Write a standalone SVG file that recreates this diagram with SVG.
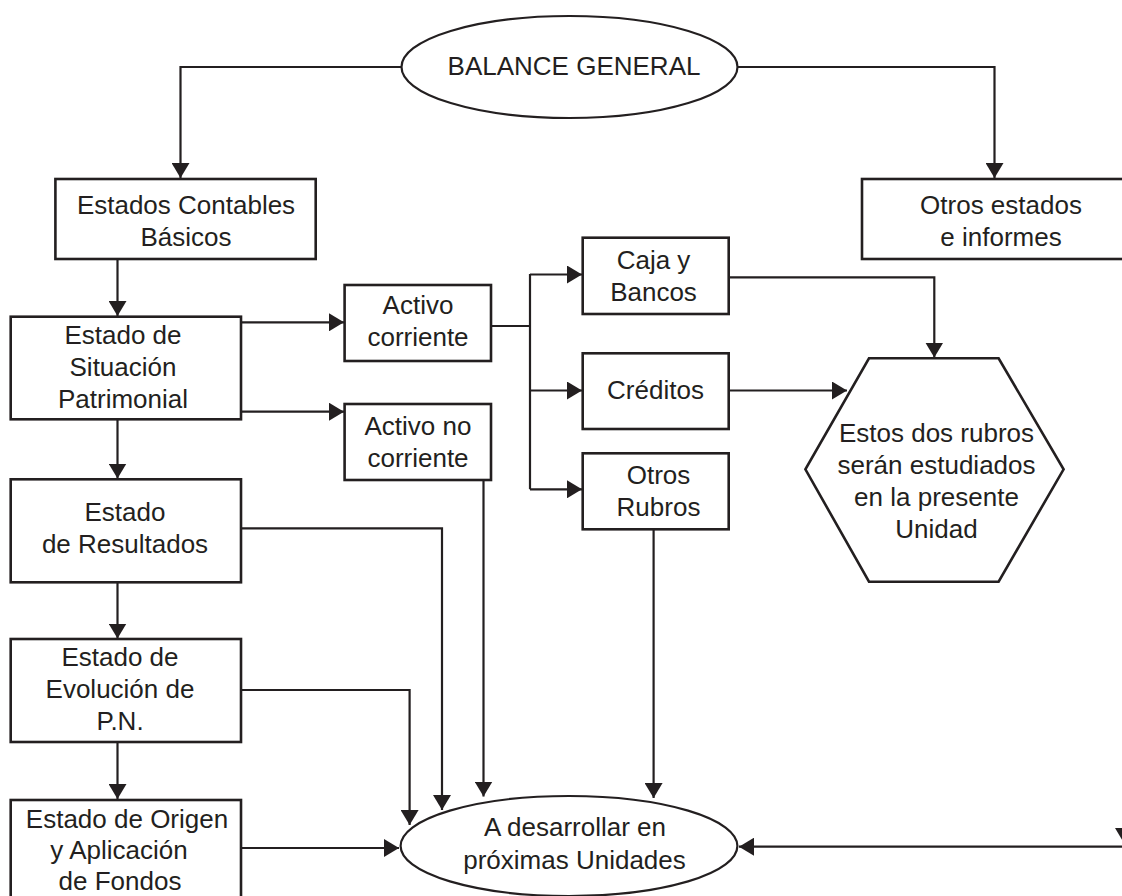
<svg xmlns="http://www.w3.org/2000/svg" width="1122" height="896" viewBox="0 0 1122 896">
<style>
.box{fill:#fff;stroke:#231f20;stroke-width:2.6}
.ell{fill:#fff;stroke:#231f20;stroke-width:2.2}
.lbl{font-family:"Liberation Sans",Arial,Helvetica,sans-serif;font-size:26px;fill:#231f20;text-anchor:middle}
.con{fill:none;stroke:#231f20;stroke-width:2.2}
</style>
<defs>
<marker id="ah" viewBox="0 0 15 18" refX="15" refY="9" markerWidth="15" markerHeight="18" markerUnits="userSpaceOnUse" orient="auto">
<path d="M0,0 L15,9 L0,18 Z" fill="#231f20"/>
</marker>
</defs>
<rect width="1122" height="896" fill="#fff"/>
<g id="connectors">
<path class="con" d="M401,67 H180.5 V178" marker-end="url(#ah)"/>
<path class="con" d="M738,67 H994.5 V178" marker-end="url(#ah)"/>
<path class="con" d="M117.5,259 V316" marker-end="url(#ah)"/>
<path class="con" d="M241,322.3 H344" marker-end="url(#ah)"/>
<path class="con" d="M241,411.7 H344" marker-end="url(#ah)"/>
<path class="con" d="M117.5,419.3 V478.5" marker-end="url(#ah)"/>
<path class="con" d="M491,326 H530 M530,274 V489.3"/>
<path class="con" d="M530,274.5 H582" marker-end="url(#ah)"/>
<path class="con" d="M530,390.5 H582" marker-end="url(#ah)"/>
<path class="con" d="M530,489.3 H582" marker-end="url(#ah)"/>
<path class="con" d="M728.5,277.3 H934.3 V357.5" marker-end="url(#ah)"/>
<path class="con" d="M728.5,390.5 H847" marker-end="url(#ah)"/>
<path class="con" d="M653.6,529.3 V798" marker-end="url(#ah)"/>
<path class="con" d="M483.5,480 V796.5" marker-end="url(#ah)"/>
<path class="con" d="M241,528.3 H442 V810" marker-end="url(#ah)"/>
<path class="con" d="M117.5,582.3 V638.5" marker-end="url(#ah)"/>
<path class="con" d="M241,690 H409.6 V825" marker-end="url(#ah)"/>
<path class="con" d="M117.5,742 V799" marker-end="url(#ah)"/>
<path class="con" d="M241,848 H399" marker-end="url(#ah)"/>
<path class="con" d="M1124,259 V843" marker-end="url(#ah)"/>
<path class="con" d="M1130,846.7 H739" marker-end="url(#ah)"/>
</g>
<g id="balance-general">
<ellipse class="ell" cx="569.5" cy="67" rx="168" ry="51"/>
<text class="lbl" x="574" y="75">BALANCE GENERAL</text>
</g>
<g id="estados-contables">
<rect class="box" x="55.4" y="179" width="260.3" height="80"/>
<text class="lbl" x="186" y="213.5">Estados Contables</text>
<text class="lbl" x="186" y="245.5">Básicos</text>
</g>
<g id="otros-estados">
<rect class="box" x="862" y="179" width="300" height="80"/>
<text class="lbl" x="1001" y="213.5">Otros estados</text>
<text class="lbl" x="1001" y="245.5">e informes</text>
</g>
<g id="situacion-patrimonial">
<rect class="box" x="10.7" y="316.7" width="230.3" height="102.6"/>
<text class="lbl" x="123" y="343.5">Estado de</text>
<text class="lbl" x="123" y="375.5">Situación</text>
<text class="lbl" x="123" y="407.5">Patrimonial</text>
</g>
<g id="activo-corriente">
<rect class="box" x="344.6" y="285" width="146.4" height="76"/>
<text class="lbl" x="418" y="313.5">Activo</text>
<text class="lbl" x="418" y="345.5">corriente</text>
</g>
<g id="activo-no-corriente">
<rect class="box" x="344.6" y="404" width="146.4" height="76"/>
<text class="lbl" x="418" y="434.5">Activo no</text>
<text class="lbl" x="418" y="466.5">corriente</text>
</g>
<g id="caja-bancos">
<rect class="box" x="582.7" y="237.7" width="146" height="76.3"/>
<text class="lbl" x="653.5" y="268.5">Caja y</text>
<text class="lbl" x="653.5" y="300.5">Bancos</text>
</g>
<g id="creditos">
<rect class="box" x="582.7" y="353.3" width="146" height="75.7"/>
<text class="lbl" x="655.5" y="399">Créditos</text>
</g>
<g id="otros-rubros">
<rect class="box" x="582.7" y="453.3" width="146" height="76"/>
<text class="lbl" x="658.5" y="484">Otros</text>
<text class="lbl" x="658.5" y="516">Rubros</text>
</g>
<g id="hexagono">
<polygon class="box" points="869,358.3 998.6,358.3 1063.6,469.3 998.6,581.7 869,581.7 805.4,469.3"/>
<text class="lbl" x="936.5" y="441.7">Estos dos rubros</text>
<text class="lbl" x="936.5" y="473.7">serán estudiados</text>
<text class="lbl" x="936.5" y="505.7">en la presente</text>
<text class="lbl" x="936.5" y="537.7">Unidad</text>
</g>
<g id="estado-resultados">
<rect class="box" x="10.7" y="479.3" width="230.3" height="103"/>
<text class="lbl" x="125" y="520.7">Estado</text>
<text class="lbl" x="125" y="552.7">de Resultados</text>
</g>
<g id="evolucion-pn">
<rect class="box" x="10.7" y="639" width="230.3" height="103"/>
<text class="lbl" x="120" y="666">Estado de</text>
<text class="lbl" x="120" y="698">Evolución de</text>
<text class="lbl" x="120" y="730">P.N.</text>
</g>
<g id="origen-aplicacion">
<rect class="box" x="10.7" y="800" width="230.3" height="120"/>
<text class="lbl" x="127" y="827.7">Estado de Origen</text>
<text class="lbl" x="119" y="859">y Aplicación</text>
<text class="lbl" x="120" y="890">de Fondos</text>
</g>
<g id="a-desarrollar">
<ellipse class="ell" cx="569" cy="846" rx="168.4" ry="50"/>
<text class="lbl" x="575" y="836">A desarrollar en</text>
<text class="lbl" x="574.5" y="869">próximas Unidades</text>
</g>
</svg>
